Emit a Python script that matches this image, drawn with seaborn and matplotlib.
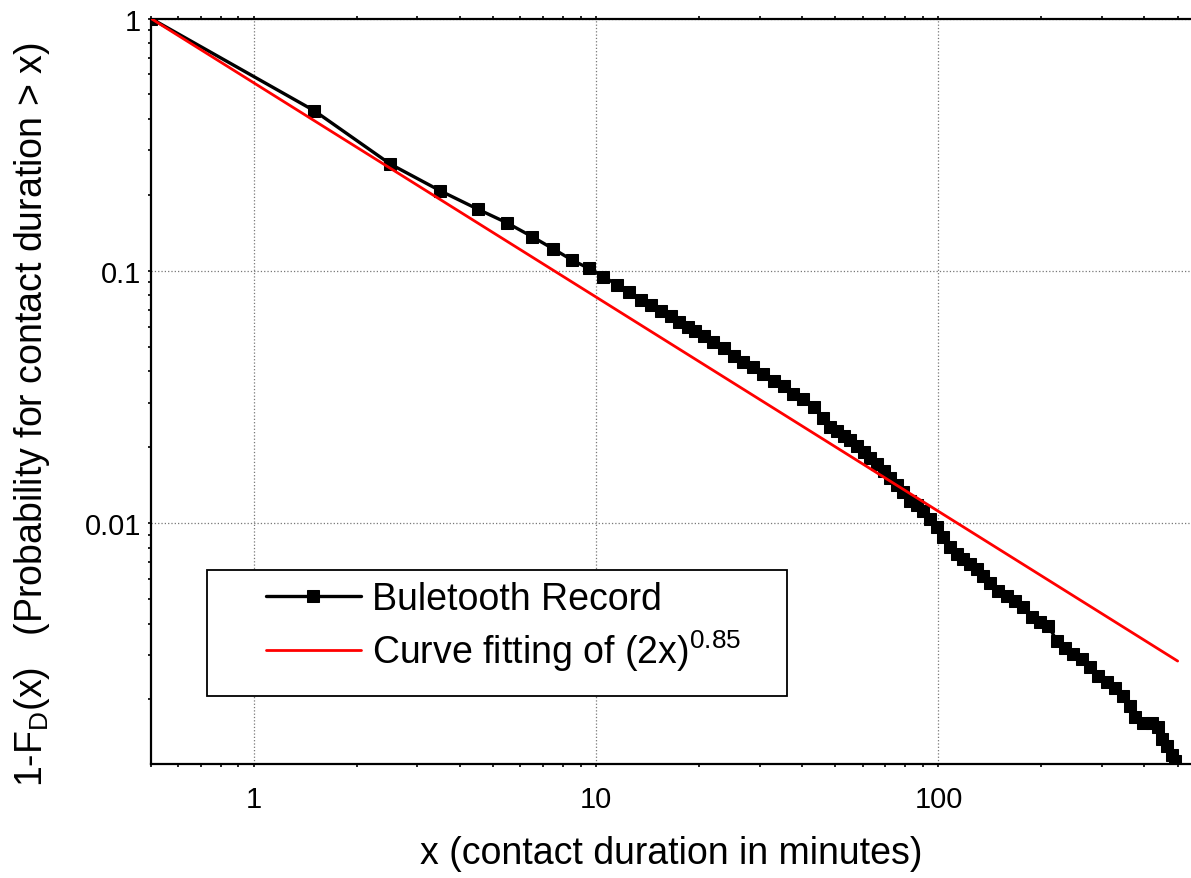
import matplotlib
matplotlib.use('Agg')
import matplotlib.pyplot as plt
from matplotlib.patches import Rectangle
from matplotlib.ticker import FuncFormatter, LogLocator
import seaborn as sns

# contact duration (minutes) and 1-F_D(x)
bt_x = [0.5, 1.5, 2.5, 3.5, 4.5, 5.5, 6.5, 7.5, 8.5, 9.5,
        10.5, 11.5, 12.5, 13.5, 14.5, 15.5, 16.5, 17.5, 18.5, 19.5,
        20.6, 22.0, 23.6, 25.2, 26.9, 28.8, 30.8, 33.0, 35.3, 37.7,
        40.3, 43.2, 46.1, 48.3, 50.5, 52.8, 55.2, 57.8, 60.4, 63.2,
        66.1, 69.1, 72.3, 75.6, 79.0, 82.7, 86.5, 90.4, 94.6, 98.9,
        103.4, 108.2, 113.2, 118.3, 123.8, 129.5, 135.3, 141.6, 149.7, 158.4,
        167.5, 177.2, 187.4, 198.2, 209.6, 221.7, 234.4, 248.0, 262.3, 277.3,
        293.3, 310.3, 328.1, 347.0, 362.9, 375.4, 396.9, 420.0, 439.0, 449.2,
        464.7, 480.4, 491.2]
bt_y = [1.0, 0.431, 0.265, 0.2076, 0.1757, 0.1546, 0.1365, 0.1220, 0.1103, 0.1023,
        0.0947, 0.0881, 0.0821, 0.0768, 0.0731, 0.0694, 0.0660, 0.0625, 0.0600, 0.0578,
        0.0550, 0.0520, 0.0493, 0.0460, 0.0436, 0.0414, 0.0390, 0.0366, 0.0348, 0.0325,
        0.0310, 0.0288, 0.0262, 0.02395, 0.02321, 0.02219, 0.02139, 0.02025, 0.0191, 0.01805,
        0.01714, 0.01612, 0.01503, 0.01415, 0.01331, 0.01226, 0.01179, 0.01119, 0.01037, 0.00961,
        0.00878, 0.00801, 0.00754, 0.00720, 0.00688, 0.00657, 0.00618, 0.00578, 0.00539, 0.00515,
        0.00492, 0.00463, 0.00423, 0.00404, 0.00392, 0.00341, 0.00321, 0.00302, 0.00289, 0.00268,
        0.00248, 0.00234, 0.00223, 0.00207, 0.00189, 0.00170, 0.00162, 0.00162, 0.00155, 0.00139,
        0.00131, 0.00121, 0.00114]

# fitted power law, end points as drawn
fit_x = [0.5, 500.0]
fit_y = [1.0, 0.00284]

bt_label = "Buletooth Record"
fit_label = r"Curve fitting of (2x)$^{\mathregular{0.85}}$"

sns.set_style('ticks')
plt.rcParams['font.family'] = ['Liberation Sans', 'DejaVu Sans']
plt.rcParams['text.color'] = 'black'
plt.rcParams['axes.labelcolor'] = 'black'
plt.rcParams['xtick.color'] = 'black'
plt.rcParams['ytick.color'] = 'black'

fig = plt.figure(figsize=(11.91, 8.79), dpi=100)
ax = fig.add_axes([0.1268, 0.1297, 0.8732, 0.8481])

sns.lineplot(x=bt_x, y=bt_y, ax=ax, color='black', linewidth=2.4,
             marker='s', markersize=8, markeredgecolor='black',
             label=bt_label, sort=False, zorder=3)
sns.lineplot(x=fit_x, y=fit_y, ax=ax, color='#ff0000', linewidth=2.0,
             label=fit_label, sort=False, zorder=4)

ax.set_xscale('log')
ax.set_yscale('log')
ax.set_xlim(0.5, 547)
ax.set_ylim(0.00111, 1)

fmt = FuncFormatter(lambda v, _: '%g' % v)
ax.xaxis.set_major_formatter(fmt)
ax.yaxis.set_major_formatter(fmt)
ax.xaxis.set_minor_locator(LogLocator(base=10, subs=range(2, 10)))
ax.yaxis.set_minor_locator(LogLocator(base=10, subs=range(2, 10)))

ax.grid(True, which='major', linestyle=':', color='#777777', linewidth=0.9)
ax.set_axisbelow(True)

for side in ['left', 'bottom', 'top']:
    ax.spines[side].set_linewidth(1.6)
    ax.spines[side].set_color('black')
ax.spines['right'].set_visible(False)

ax.tick_params(axis='both', which='major', direction='out', length=9, width=1.5,
               labelsize=21)
ax.tick_params(axis='both', which='minor', direction='out', length=4.5, width=1.3)
ax.tick_params(axis='x', which='major', pad=13)
ax.tick_params(axis='y', which='major', pad=5)
ax.tick_params(top=True, which='both', length=2, width=1.2, labeltop=False)

ax.set_xlabel("x (contact duration in minutes)", fontsize=27, labelpad=16)
ax.set_ylabel(r"1-F$_{\mathregular{D}}$(x)   (Probability for contact duration > x)",
              fontsize=27)
ax.yaxis.set_label_coords(-0.095, 0.47)

# legend frame as drawn in the reference
ax.add_patch(Rectangle((0.0538, 0.0912), 0.5577, 0.169, transform=ax.transAxes,
                       facecolor='white', edgecolor='black', linewidth=1.3, zorder=5))
leg = ax.legend(loc='upper left', bbox_to_anchor=(0.1106, 0.245), frameon=False,
                fontsize=27, borderpad=0, borderaxespad=0, handlelength=2.53,
                handletextpad=0.3, labelspacing=0.27)
leg.set_zorder(6)

fig.savefig('out.png', dpi=100)
